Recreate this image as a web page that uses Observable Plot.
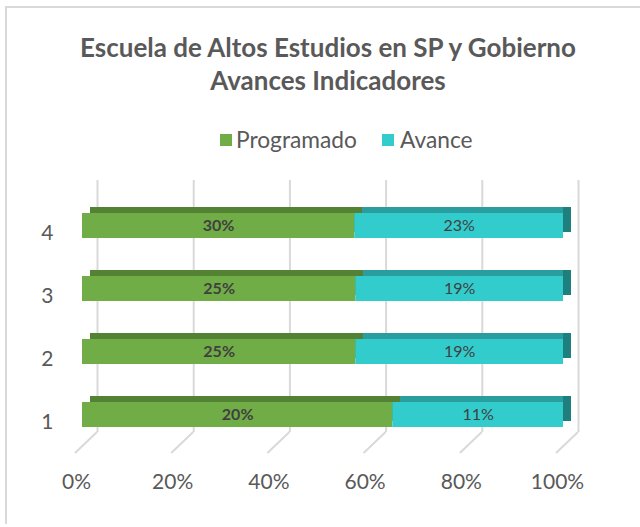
<!DOCTYPE html>
<html>
<head>
<meta charset="utf-8">
<script src="https://cdn.jsdelivr.net/npm/d3@7"></script>
<script src="https://cdn.jsdelivr.net/npm/@observablehq/plot@0.6"></script>
<style>
  html, body { margin: 0; padding: 0; background: #fff; }
  body { width: 640px; height: 527px; overflow: hidden; position: relative; font-family: Lato, "Open Sans", sans-serif; }
  #frame { position: absolute; left: 5px; top: 6px; width: 700px; height: 516px; border-left: 2px solid #d9d9d9; border-top: 2px solid #d9d9d9; }
  .tline { position: absolute; left: 8px; width: 640px; text-align: center; font-weight: bold; color: #595959; line-height: 33px; white-space: nowrap; }
  .tline span { font-size: 22px; }
  .sw { position: absolute; width: 12px; height: 12px; top: 134px; }
  .lt { position: absolute; top: 128px; line-height: 24px; color: #595959; white-space: nowrap; font-size: 19px; }
  #chart { position: absolute; left: 0; top: 160px; }
</style>
</head>
<body>
<div id="frame"></div>
<div class="tline" style="top:31px"><span id="t1">Escuela de Altos Estudios en SP y Gobierno</span></div>
<div class="tline" style="top:64px"><span id="t2">Avances Indicadores</span></div>
<div class="sw" style="left:220px;background:#70AD47"></div>
<div class="lt" id="l1" style="left:236px">Programado</div>
<div class="sw" style="left:382px;background:#33CCCC"></div>
<div class="lt" id="l2" style="left:400px">Avance</div>
<div id="chart"></div>
<script>
const categories = ["1", "2", "3", "4"];
const seriesNames = ["Programado", "Avance"];
const programado = [20, 25, 25, 30];
const avance = [11, 19, 19, 23];
const xTicks = [0, 0.2, 0.4, 0.6, 0.8, 1];

const frontColor = {Programado: "#70AD47", Avance: "#33CCCC"};
const topColor = {Programado: "#548235", Avance: "#2A9E9E"};
const sideColor = {Programado: "#548235", Avance: "#1E7F7F"};

const rows = [
  ...categories.map((c, i) => ({cat: c, series: seriesNames[0], value: programado[i]})),
  ...categories.map((c, i) => ({cat: c, series: seriesNames[1], value: avance[i]}))
];

const st = (o) => Plot.stackX({x: "value", y: "cat", z: "series", offset: "normalize", ...o});

function fit(el, target) {
  const w = el.getBoundingClientRect().width;
  const fs = parseFloat(getComputedStyle(el).fontSize);
  el.style.fontSize = (fs * target / w) + "px";
}
const t1 = document.getElementById("t1");
fit(t1, 496);
document.getElementById("t2").style.fontSize = t1.style.fontSize;
fit(document.getElementById("l1"), 121);
document.getElementById("l2").style.fontSize = document.getElementById("l1").style.fontSize;

const diagonals = (index, scales, values, dimensions) => {
  const g = d3.create("svg:g").attr("stroke", "#d9d9d9").attr("stroke-width", 2).attr("fill", "none");
  const yb = dimensions.height - dimensions.marginBottom - 9;
  for (const v of xTicks) {
    const x = scales.x(v);
    g.append("path").attr("d", `M${x + 15},${yb}L${x - 7},${yb + 21}`);
  }
  return g.node();
};

const chart = Plot.plot({
  width: 640,
  height: 367,
  marginTop: 40,
  marginBottom: 86,
  marginLeft: 82,
  marginRight: 77,
  style: {background: "transparent", fontFamily: "Lato, 'Open Sans', sans-serif"},
  x: {domain: [0, 1], axis: null},
  y: {domain: ["4", "3", "2", "1"], paddingInner: 0.6, paddingOuter: 0.2, axis: null},
  color: {type: "identity"},
  marks: [
    Plot.ruleX(xTicks, {x: d => d, dx: 15, stroke: "#d9d9d9", strokeWidth: 2, insetTop: -20, insetBottom: 9}),
    diagonals,
    Plot.barX(rows, st({fill: d => sideColor[d.series], dx: 8, dy: -6})),
    Plot.barX(rows, st({fill: d => topColor[d.series], dx: 8, dy: -6, insetRight: 8})),
    Plot.barX(rows, st({fill: d => frontColor[d.series]})),
    Plot.text(rows, st({text: d => d.series === "Programado" ? d.value + "%" : "", fontWeight: "bold", fill: "#404040", fontSize: 16})),
    Plot.text(rows, st({text: d => d.series === "Avance" ? d.value + "%" : "", fontWeight: "normal", fill: "#404040", fontSize: 16})),
    Plot.text(xTicks, {x: d => d, text: d => Math.round(d * 100) + "%", frameAnchor: "bottom", dy: 47, dx: -6, fontSize: 21, fill: "#595959"}),
    Plot.text(categories, {y: d => d, text: d => d, frameAnchor: "left", textAnchor: "end", dx: -29, dy: 7, fontSize: 21, fill: "#595959"})
  ]
});
document.getElementById("chart").appendChild(chart);
</script>
</body>
</html>
